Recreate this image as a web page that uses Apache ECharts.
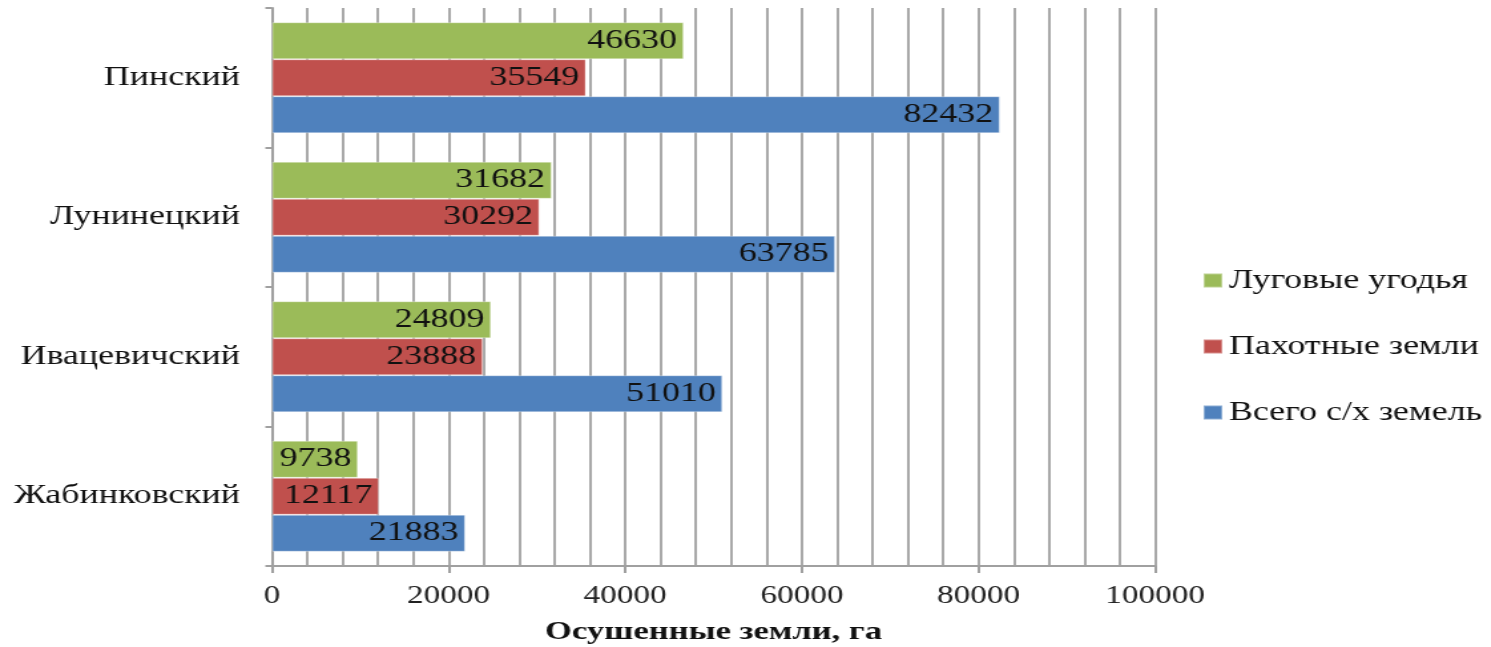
<!DOCTYPE html>
<html>
<head>
<meta charset="utf-8">
<script src="https://cdn.jsdelivr.net/npm/echarts@6/dist/echarts.min.js"></script>
<style>
  html, body { margin: 0; padding: 0; background: #fff; overflow: hidden; }
  #wrap { width: 1491px; height: 647px; overflow: hidden; }
  /* the chart is laid out narrower and widened, giving the broad serif lettering */
  #chart { width: 1121px; height: 647px; transform: scaleX(1.33); transform-origin: 0 0; }
</style>
</head>
<body>
<div id="wrap"><div id="chart"></div></div>
<script>
// Districts, bottom to top
const districts = ['Жабинковский', 'Ивацевичский', 'Лунинецкий', 'Пинский'];

// Drained land, ha
const totalAgri = [21883, 51010, 63785, 82432];   // Всего с/х земель
const arable    = [12117, 23888, 30292, 35549];   // Пахотные земли
const meadows   = [9738, 24809, 31682, 46630];    // Луговые угодья

const seriesNames = ['Всего с/х земель', 'Пахотные земли', 'Луговые угодья'];
const legendOrder = ['Луговые угодья', 'Пахотные земли', 'Всего с/х земель'];
const axisTitle = 'Осушенные земли, га';

const FONT = '"Liberation Serif", "DejaVu Serif", serif';
const gridLine = { color: '#a9a9a9', width: 2 };

const chart = echarts.init(document.getElementById('chart'), null, { renderer: 'canvas' });

function barSeries(name, data, color) {
  return {
    name: name,
    type: 'bar',
    data: data,
    barWidth: 37,
    barGap: '0%',
    itemStyle: { color: color, borderColor: 'rgba(255,255,255,0.35)', borderWidth: 1 },
    label: {
      show: true,
      position: 'insideRight',
      distance: 5,
      color: '#111',
      fontFamily: FONT,
      fontSize: 27
    },
    emphasis: { disabled: true }
  };
}

chart.setOption({
  animation: false,
  backgroundColor: '#ffffff',
  grid: { left: 204.5, right: 252.5, top: 8, bottom: 81, containLabel: false, outerBoundsMode: 'none' },
  legend: {
    orient: 'vertical',
    left: 899,
    top: 262,
    itemWidth: 14,
    itemHeight: 14,
    itemGap: 39,
    icon: 'rect',
    data: legendOrder,
    textStyle: { fontFamily: FONT, fontSize: 27, color: '#111' }
  },
  xAxis: {
    type: 'value',
    min: 0,
    max: 100000,
    interval: 20000,
    name: axisTitle,
    nameLocation: 'middle',
    nameGap: 53,
    nameTextStyle: { fontFamily: FONT, fontSize: 26, fontWeight: 'bold', color: '#111' },
    axisLine: { show: true, lineStyle: { color: '#a0a0a0', width: 2 } },
    axisTick: { show: true, length: 7, lineStyle: { color: '#a0a0a0', width: 2 } },
    axisLabel: { fontFamily: FONT, fontSize: 25, color: '#222', margin: 18, formatter: v => String(v) },
    splitLine: { show: true, lineStyle: gridLine },
    minorTick: { show: false, splitNumber: 5 },
    minorSplitLine: { show: true, lineStyle: gridLine }
  },
  yAxis: {
    type: 'category',
    data: districts,
    axisLine: { show: true, lineStyle: { color: '#a0a0a0', width: 2 } },
    axisTick: { show: true, length: 5, lineStyle: { color: '#a0a0a0', width: 2 } },
    axisLabel: { fontFamily: FONT, fontSize: 27, color: '#111', margin: 24 },
    splitLine: { show: false }
  },
  // within each group the series run top to bottom: meadows, arable, total
  series: [
    barSeries(seriesNames[2], meadows, '#9bbb59'),
    barSeries(seriesNames[1], arable, '#c0504d'),
    barSeries(seriesNames[0], totalAgri, '#4f81bd')
  ]
});
</script>
</body>
</html>
